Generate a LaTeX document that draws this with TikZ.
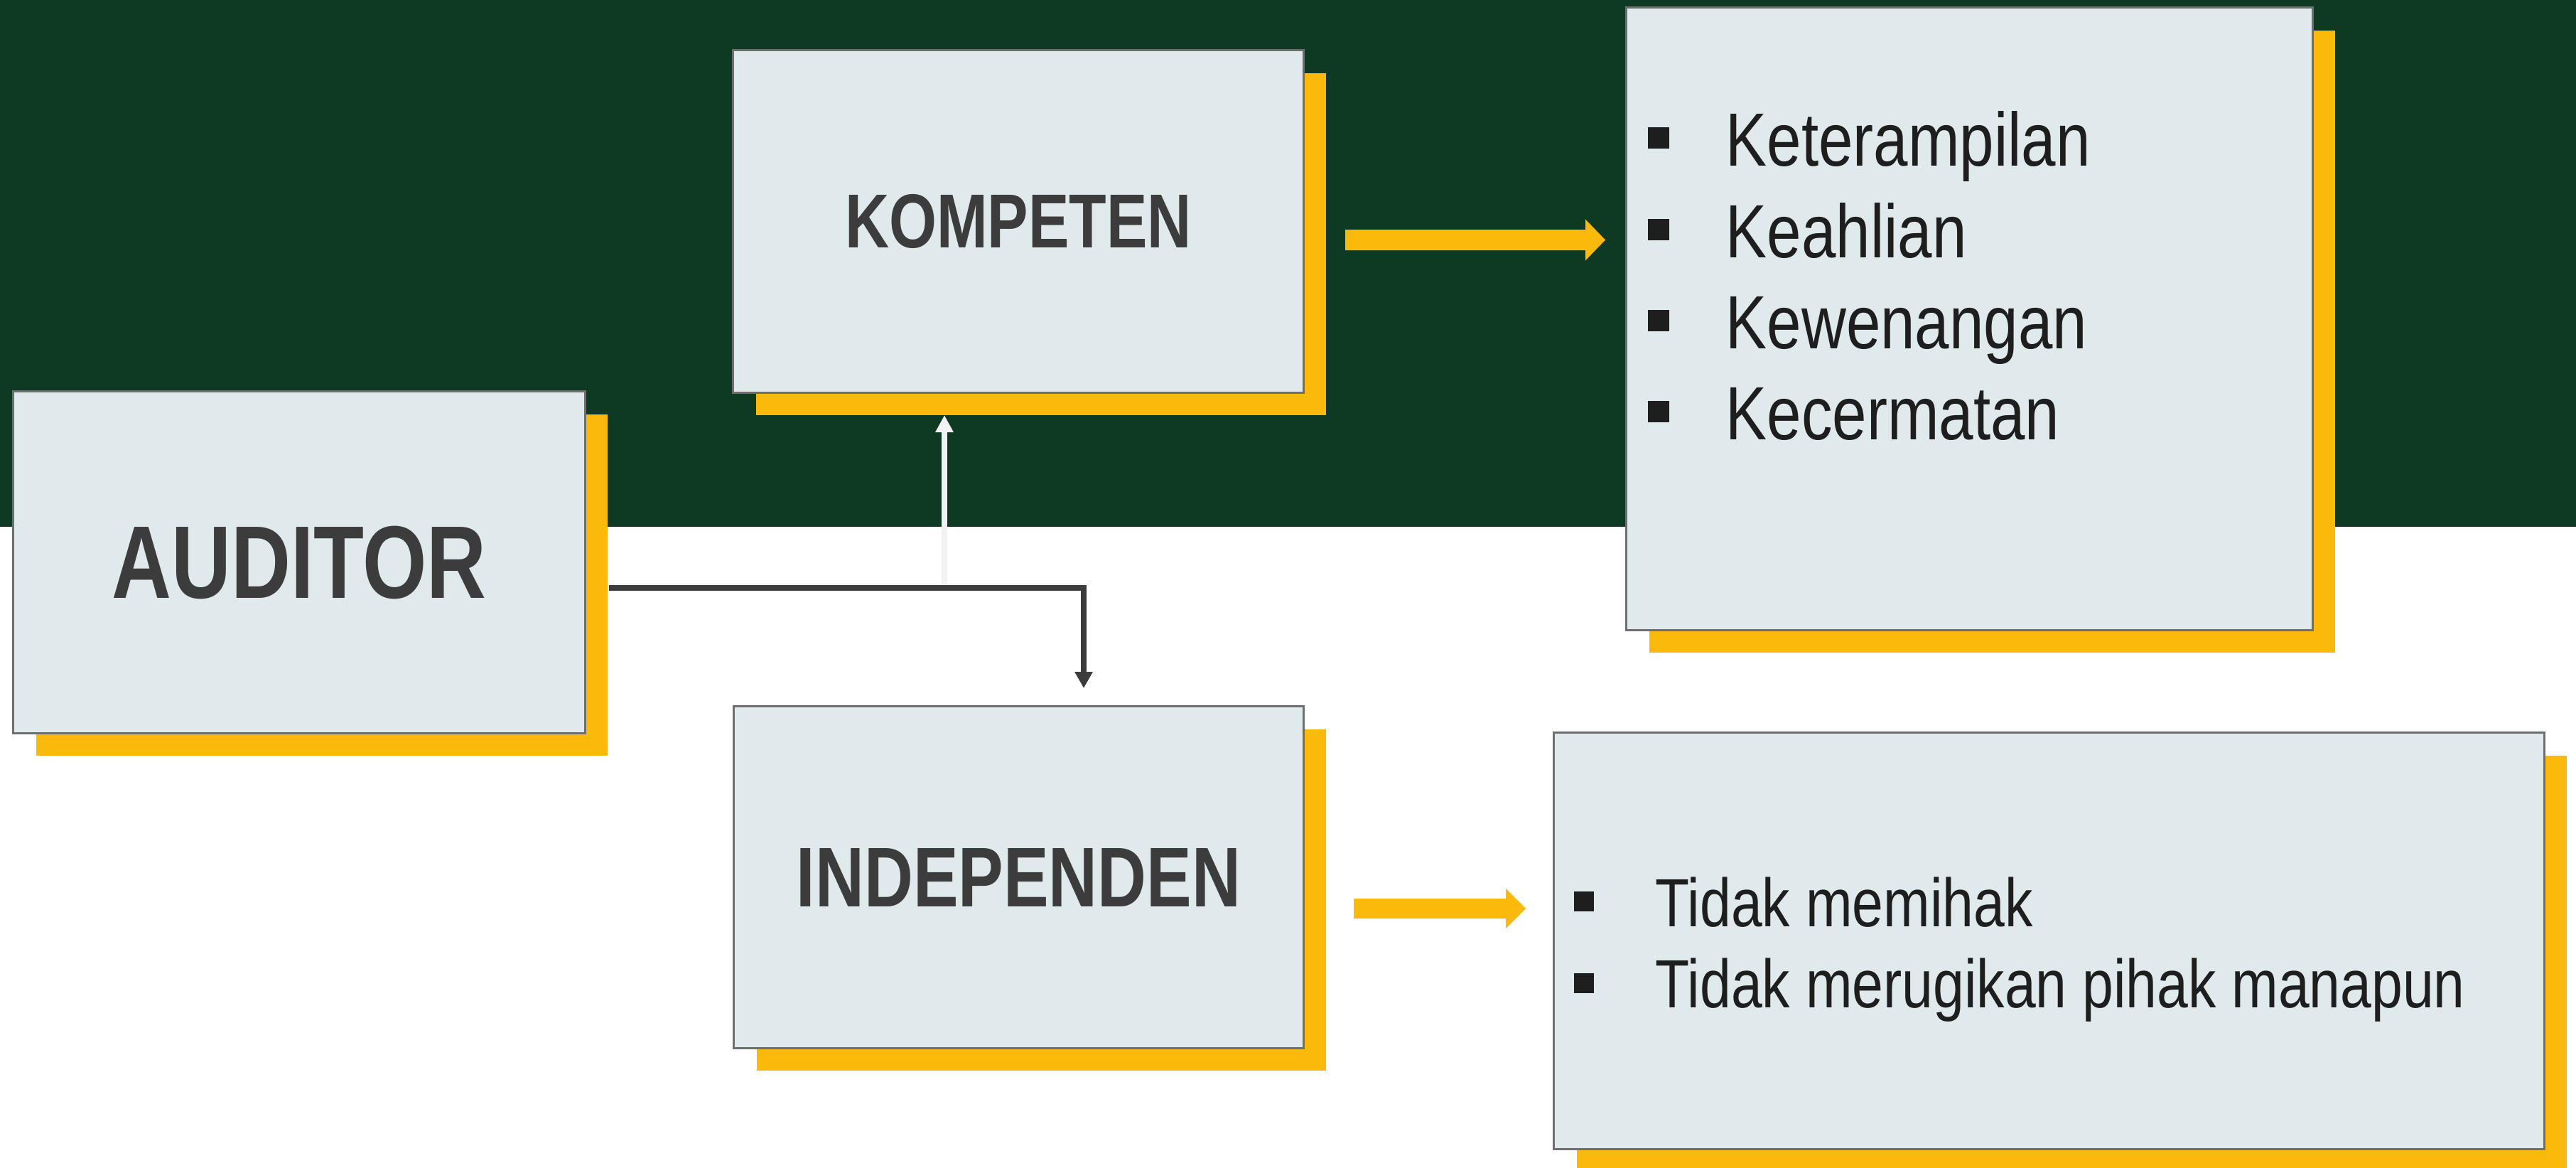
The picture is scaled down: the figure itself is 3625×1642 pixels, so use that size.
\documentclass[tikz,border=0pt]{standalone}
\usepackage{fontspec}
\newfontfamily\narrowsans[FakeStretch=0.8]{Liberation Sans}
\newfontfamily\listsans[FakeStretch=0.82]{Liberation Sans}
\usetikzlibrary{arrows.meta,calc,shadows}
\definecolor{bandgreen}{HTML}{0E3922}
\definecolor{boxfill}{HTML}{E0E9EC}
\definecolor{boxline}{HTML}{6E6E6E}
\definecolor{accent}{HTML}{FBB90C}
\definecolor{labeltext}{HTML}{3C3C3C}
\definecolor{listtext}{HTML}{1E1E1E}
\definecolor{uplink}{HTML}{F2F2F2}
\begin{document}
\begin{tikzpicture}[x=0.01cm,y=-0.01cm,
  card/.style={rectangle, draw=boxline, line width=0.3mm, fill=boxfill, inner sep=0pt,
    drop shadow={shadow xshift=3.2mm, shadow yshift=-3.2mm, fill=accent, opacity=1}},
  biglabel/.style={text=labeltext, font=\narrowsans\bfseries\fontsize{41.3pt}{45pt}\selectfont},
  midlabel/.style={text=labeltext, font=\narrowsans\bfseries\fontsize{30.6pt}{34pt}\selectfont},
  indlabel/.style={text=labeltext, font=\narrowsans\bfseries\fontsize{33.9pt}{37pt}\selectfont},
  itemA/.style={anchor=base west, inner sep=0pt, text=listtext, font=\listsans\fontsize{30.2pt}{34pt}\selectfont},
  itemB/.style={anchor=base west, inner sep=0pt, text=listtext, font=\listsans\fontsize{27.3pt}{31pt}\selectfont},
  bulletA/.style={rectangle, fill=listtext, inner sep=0pt, minimum size=3mm},
  bulletB/.style={rectangle, fill=listtext, inner sep=0pt, minimum size=2.8mm},
  darklink/.style={draw=labeltext, line width=0.8mm, line join=miter,
    -{Triangle[width=2.4mm,length=2.3mm]}},
  lightlink/.style={draw=uplink, line width=0.8mm,
    -{Triangle[width=2.4mm,length=2.4mm]}},
  blockarrow/.style={fill=accent, draw=none}
]
\useasboundingbox (0,0) rectangle (3625,1642);
% background: white page with a dark green band across the top
\fill[white] (0,0) rectangle (3625,1642);
\fill[bandgreen] (0,0) rectangle (3625,741);

% connector junction points
\coordinate (split) at (1329,827);
\coordinate (bend) at (1525,827);
\coordinate (downtip) at (1525,968);

% upward branch towards KOMPETEN (drawn first, the dark line runs over its foot)
\draw[lightlink] (split) -- (1329,584);

% main cards
\node[card, minimum width=80.4mm, minimum height=48mm, biglabel] (aud) at (421,791) {AUDITOR};
\node[card, minimum width=80.2mm, minimum height=48.1mm, midlabel] (komp) at (1433,311.5) {KOMPETEN};
\node[card, minimum width=80.1mm, minimum height=48mm, indlabel] (indep) at (1433.5,1234) {INDEPENDEN};
\node[card, minimum width=96.5mm, minimum height=87.5mm] (kpi) at (2771.5,448.5) {};
\node[card, minimum width=139.3mm, minimum height=58.5mm] (tidak) at (2883.5,1323.5) {};

% branch from AUDITOR (leaving from behind its shadow) down to INDEPENDEN
\draw[darklink] ($(aud.east |- split)+(32,0)$) -- (bend) -- (downtip);

% yellow block arrows
\coordinate (a1s) at (1893,337.5);
\coordinate (a1t) at (2259,337.5);
\fill[blockarrow] ($(a1s)+(0,-14.5)$) -- ($(a1t)+(-28,-14.5)$) -- ($(a1t)+(-28,-29)$)
  -- (a1t) -- ($(a1t)+(-28,29)$) -- ($(a1t)+(-28,14.5)$) -- ($(a1s)+(0,14.5)$) -- cycle;
\coordinate (a2s) at (1905,1278);
\coordinate (a2t) at (2147,1278);
\fill[blockarrow] ($(a2s)+(0,-14)$) -- ($(a2t)+(-28,-14)$) -- ($(a2t)+(-28,-28)$)
  -- (a2t) -- ($(a2t)+(-28,28)$) -- ($(a2t)+(-28,14)$) -- ($(a2s)+(0,14)$) -- cycle;

% competence list
\node[bulletA] (kb1) at (2333.5,194) {};
\node[bulletA] (kb2) at (2333.5,323) {};
\node[bulletA] (kb3) at (2333.5,451) {};
\node[bulletA] (kb4) at (2333.5,579) {};
\node[itemA] (k1) at (2428,233) {Keterampilan};
\node[itemA] (k2) at (2428,362) {Keahlian};
\node[itemA] (k3) at (2428,490) {Kewenangan};
\node[itemA] (k4) at (2428,618) {Kecermatan};

% independence list
\node[bulletB] (tb1) at (2229,1268) {};
\node[bulletB] (tb2) at (2229,1382.5) {};
\node[itemB] (t1) at (2329,1303) {Tidak memihak};
\node[itemB] (t2) at (2329,1417.6) {Tidak merugikan pihak manapun};
\end{tikzpicture}
\end{document}
